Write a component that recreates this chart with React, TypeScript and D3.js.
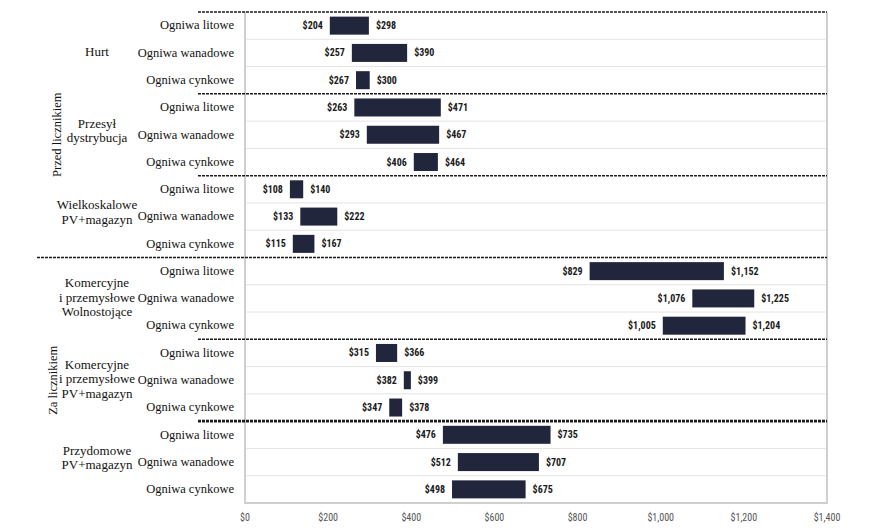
import React from "react";
import * as d3 from "d3";

const sections = ["Przed licznikiem", "Za licznikiem"];
const groupLabels: string[][] = [
  ["Hurt"],
  ["Przesył", "dystrybucja"],
  ["Wielkoskalowe", "PV+magazyn"],
  ["Komercyjne", "i przemysłowe", "Wolnostojące"],
  ["Komercyjne", "i przemysłowe", "PV+magazyn"],
  ["Przydomowe", "PV+magazyn"],
];
const groupSection = [0, 0, 0, 1, 1, 1];
const technologies = ["Ogniwa litowe", "Ogniwa wanadowe", "Ogniwa cynkowe"];
const lowValues: number[][] = [
  [204, 257, 267],
  [263, 293, 406],
  [108, 133, 115],
  [829, 1076, 1005],
  [315, 382, 347],
  [476, 512, 498],
];
const highValues: number[][] = [
  [298, 390, 300],
  [471, 467, 464],
  [140, 222, 167],
  [1152, 1225, 1204],
  [366, 399, 378],
  [735, 707, 675],
];
const xTicks = [0, 200, 400, 600, 800, 1000, 1200, 1400];

const W = 880;
const H = 530;
const PLOT_L = 245;
const PLOT_R = 827;
const PLOT_T = 12;
const PLOT_B = 503;

const serif = "Liberation Serif";
const narrow = "Roboto Condensed";
const fmt = (v: number) => "$" + d3.format(",")(v);

export default function App() {
  const rows: { g: number; t: number; key: string }[] = [];
  groupLabels.forEach((_, g) =>
    technologies.forEach((_, t) => rows.push({ g, t, key: `${g}-${t}` }))
  );
  const x = d3.scaleLinear().domain([0, 1400]).range([PLOT_L, PLOT_R]);
  const y = d3
    .scaleBand<string>()
    .domain(rows.map((r) => r.key))
    .range([PLOT_T, PLOT_B])
    .paddingInner(0.34)
    .paddingOuter(0.17);
  const step = y.step();
  const groupH = step * technologies.length;

  return (
    <div style={{ position: "absolute", left: 0, top: 0 }}>
      <svg width={W} height={H} style={{ display: "block", background: "#fff" }}>
        {/* light row separators */}
        {rows.map((r, i) =>
          i % 3 !== 0 ? (
            <line
              key={"rs" + i}
              x1={PLOT_L}
              x2={PLOT_R}
              y1={PLOT_T + i * step}
              y2={PLOT_T + i * step}
              stroke="#e4e4e4"
              strokeWidth={1}
            />
          ) : null
        )}
        {/* plot frame */}
        <line x1={PLOT_L} x2={PLOT_L} y1={PLOT_T} y2={PLOT_B + 1} stroke="#cfcfcf" strokeWidth={2} />
        <line x1={PLOT_R} x2={PLOT_R} y1={PLOT_T} y2={PLOT_B + 1} stroke="#cfcfcf" strokeWidth={2} />
        <line x1={PLOT_L - 1} x2={PLOT_R + 1} y1={PLOT_B} y2={PLOT_B} stroke="#cfcfcf" strokeWidth={2} />
        {/* group dashed separators */}
        {groupLabels.map((_, g) => {
          const yy = PLOT_T + g * groupH;
          const sectionStart = g > 0 && groupSection[g] !== groupSection[g - 1];
          return (
            <line
              key={"gs" + g}
              x1={sectionStart ? 37 : 198}
              x2={PLOT_R}
              y1={yy}
              y2={yy}
              stroke="#1a1a1a"
              strokeWidth={g === 5 ? 2.6 : 1.5}
              strokeDasharray="3,1"
            />
          );
        })}
        {/* bars */}
        {rows.map((r) => {
          const lo = lowValues[r.g][r.t];
          const hi = highValues[r.g][r.t];
          const yc = (y(r.key) as number) + y.bandwidth() / 2;
          return (
            <g key={"b" + r.key}>
              <rect
                x={x(lo)}
                y={y(r.key)}
                width={x(hi) - x(lo)}
                height={y.bandwidth()}
                fill="#22263d"
              />
              <text
                x={x(lo) - 7}
                y={yc}
                dy="0.35em"
                textAnchor="end"
                fontFamily={narrow}
                fontWeight="bold"
                fontSize={10}
                fill="#1a1a1a"
              >
                {fmt(lo)}
              </text>
              <text
                x={x(hi) + 7}
                y={yc}
                dy="0.35em"
                textAnchor="start"
                fontFamily={narrow}
                fontWeight="bold"
                fontSize={10}
                fill="#1a1a1a"
              >
                {fmt(hi)}
              </text>
            </g>
          );
        })}
        {/* technology labels */}
        {rows.map((r) => (
          <text
            key={"tl" + r.key}
            x={234}
            y={(y(r.key) as number) + y.bandwidth() / 2}
            dy="0.3em"
            textAnchor="end"
            fontFamily={serif}
            fontSize={12.5}
            fill="#111"
          >
            {technologies[r.t]}
          </text>
        ))}
        {/* group labels */}
        {groupLabels.map((lines, g) => {
          const cy = PLOT_T + g * groupH + groupH / 2 - (lines.length === 2 ? 4 : 1);
          const lh = 14.5;
          return (
            <text
              key={"gl" + g}
              x={97}
              textAnchor="middle"
              fontFamily={serif}
              fontSize={13}
              fill="#111"
            >
              {lines.map((ln, i) => (
                <tspan key={i} x={97} y={cy + (i - (lines.length - 1) / 2) * lh} dy="0.32em">
                  {ln}
                </tspan>
              ))}
            </text>
          );
        })}
        {/* section labels */}
        {sections.map((s, si) => {
          const gs = groupSection.map((v, i) => (v === si ? i : -1)).filter((i) => i >= 0);
          const top = PLOT_T + gs[0] * groupH;
          const bot = PLOT_T + (gs[gs.length - 1] + 1) * groupH;
          const cx = si === 0 ? 57 : 53;
          const cy = (top + bot) / 2;
          return (
            <text
              key={"sl" + si}
              transform={`translate(${cx},${cy}) rotate(-90)`}
              textAnchor="middle"
              dy="0.32em"
              fontFamily={serif}
              fontSize={12.5}
              fill="#111"
            >
              {s}
            </text>
          );
        })}
        {/* x axis ticks */}
        {xTicks.map((t) => (
          <text
            key={"xt" + t}
            x={x(t)}
            y={517}
            dy="0.35em"
            textAnchor="middle"
            fontFamily={narrow}
            fontSize={10}
            fill="#555"
          >
            {fmt(t)}
          </text>
        ))}
      </svg>
    </div>
  );
}
